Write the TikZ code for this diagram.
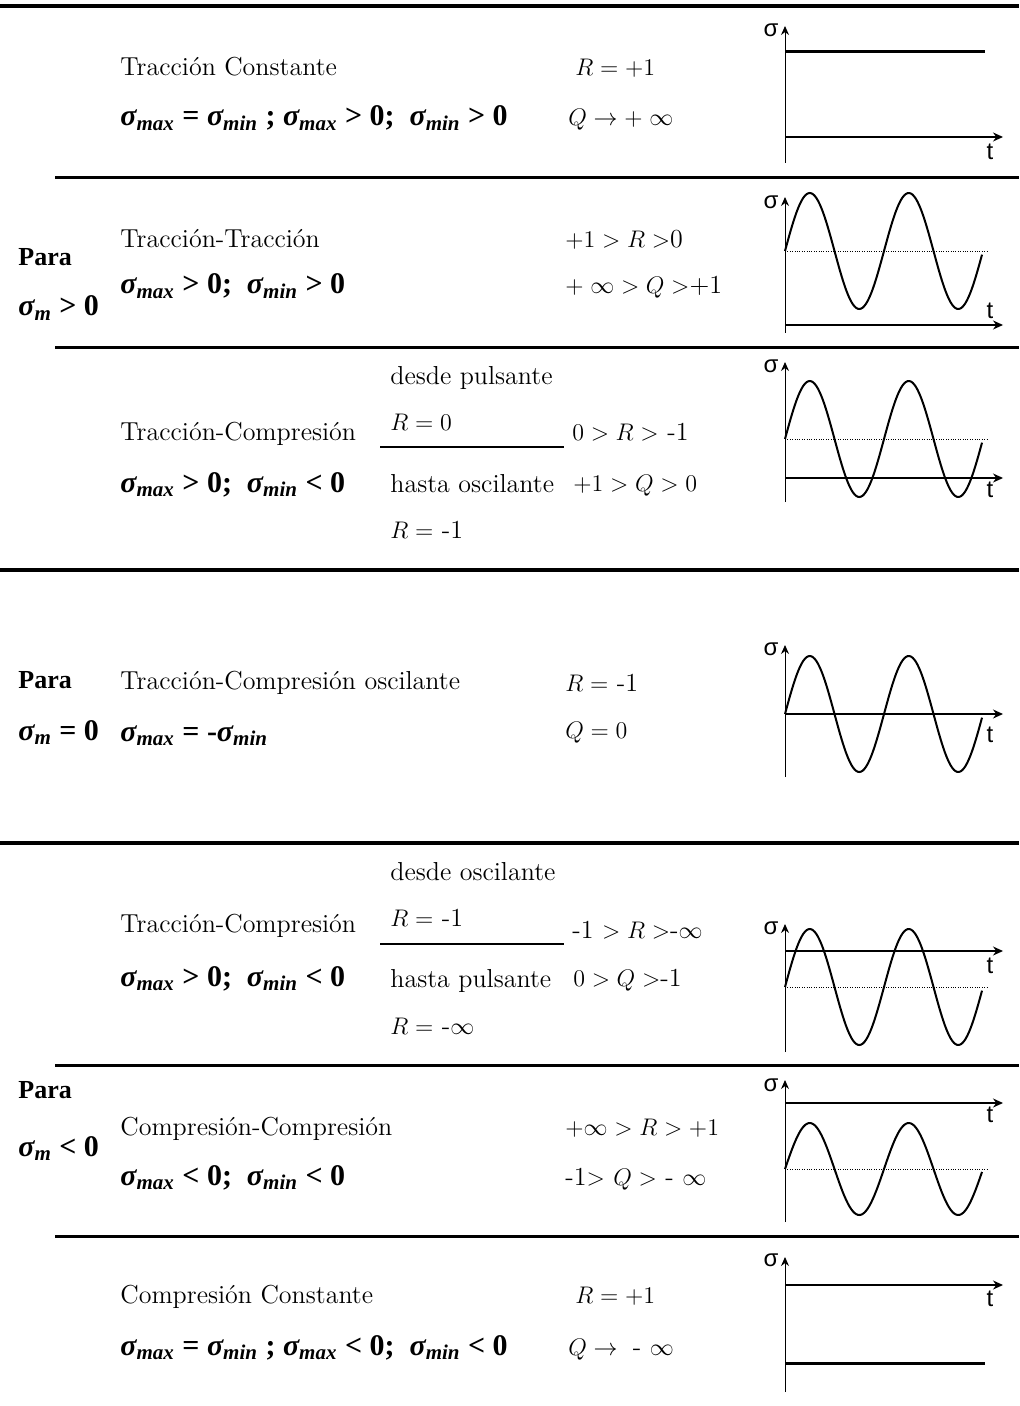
\documentclass[tikz,border=0pt]{standalone}
\usepackage{fontspec}
\newfontfamily\formfont{Liberation Serif}
\newfontfamily\axisfont{Liberation Sans}
\usepackage{tikz}
\usetikzlibrary{arrows.meta}
\newcommand{\sgm}[1]{{\itshape σ}\textsubscript{\itshape #1}}
\tikzset{
  fatiga-text/.style={anchor=base west, inner sep=0pt, font=\fontsize{13}{15}\selectfont},
  fatiga-formula/.style={anchor=base west, inner sep=0pt,
    font=\formfont\bfseries\fontsize{15}{17}\selectfont},
  fatiga-para/.style={anchor=base west, inner sep=0pt,
    font=\formfont\bfseries\fontsize{13}{15}\selectfont},
  fatiga-axislabel/.style={inner sep=0pt, font=\axisfont\fontsize{12}{14}\selectfont},
  fatiga-rule/.style={line width=1.5pt},
  fatiga-thickrule/.style={line width=2pt},
  fatiga-time/.style={line width=0.7pt, -{Stealth[length=5pt,width=4.5pt]}},
  fatiga-sigma/.style={line width=0.5pt, -{Stealth[length=4.5pt,width=4pt]}},
  fatiga-curve/.style={line width=1pt},
  fatiga-level/.style={line width=1.5pt},
  fatiga-mean/.style={line width=0.4pt, dash pattern=on 0.4pt off 0.8pt}
}

\begin{document}
\begin{tikzpicture}[x=0.5pt, y=-0.5pt]
  \useasboundingbox (0,0) rectangle (1019,1406);

  % Rules
  \draw[fatiga-thickrule] (0,6) -- (1019,6);
  \draw[fatiga-rule] (55,178) -- (1019,178);
  \draw[fatiga-rule] (55,348) -- (1019,348);
  \draw[fatiga-thickrule] (0,570) -- (1019,570);
  \draw[fatiga-thickrule] (0,843) -- (1019,843);
  \draw[fatiga-rule] (55,1065) -- (1019,1065);
  \draw[fatiga-rule] (55,1236) -- (1019,1236);

  % Para sigma_m > 0
  \node[fatiga-para] (para1) at (18,266) {Para};
  \node[fatiga-formula] (sm1) at (18,316) {\sgm{m} > 0};

  % Traccion constante
  \node[fatiga-text] (n1) at (120,76) {Tracción Constante};
  \node[fatiga-formula] (c1) at (120,126) {\sgm{max} = \sgm{min} ; \sgm{max} > 0;\ \ \sgm{min} > 0};
  \node[fatiga-text] (r1) at (575,76) {$R = +1$};
  \node[fatiga-text] (q1) at (568,126) {$Q \to +\;\infty$};
  \draw[fatiga-sigma] (785,163) -- (785,26);
  \draw[fatiga-time] (785,137) -- (1003,137);
  \node[fatiga-axislabel] (sg1) at (771,30) {σ};
  \node[fatiga-axislabel] (tt1) at (990,152) {t};
  \draw[fatiga-level] (785,52) -- (985,52);

  % Traccion-traccion
  \node[fatiga-text] (n2) at (120,248) {Tracción-Tracción};
  \node[fatiga-formula] (c2) at (120,294) {\sgm{max} > 0;\ \ \sgm{min} > 0};
  \node[fatiga-text] (r2) at (565,248) {$+1 > R >$0};
  \node[fatiga-text] (q2) at (565,294) {$+\;\infty > Q >$+1};
  \draw[fatiga-sigma] (785,333) -- (785,197);
  \draw[fatiga-time] (785,325) -- (1003,325);
  \node[fatiga-axislabel] (sg2) at (771,202) {σ};
  \node[fatiga-axislabel] (tt2) at (990,311) {t};
  \draw[fatiga-mean] (785,251) -- (988,251);
  \draw[fatiga-curve] plot[domain=0:197, samples=120, smooth] ({785+\x},{251-58*sin(3.6364*\x)});

  % Traccion-compresion, desde pulsante hasta oscilante
  \node[fatiga-text] (d3) at (390,385) {desde pulsante};
  \node[fatiga-text] (d3r) at (390,430) {$R = 0$};
  \draw[line width=1pt] (380,447) -- (564,447);
  \node[fatiga-text] (h3) at (390,492) {hasta oscilante};
  \node[fatiga-text] (h3r) at (390,538) {$R =$ -1};
  \node[fatiga-text] (n3) at (120,440) {Tracción-Compresión};
  \node[fatiga-formula] (c3) at (120,492) {\sgm{max} > 0;\ \ \sgm{min} < 0};
  \node[fatiga-text] (r3) at (572,441) {$0 > R >$ -1};
  \node[fatiga-text] (q3) at (573,491) {$+1 > Q > 0$};
  \draw[fatiga-sigma] (785,502) -- (785,362);
  \draw[fatiga-time] (785,478) -- (1003,478);
  \node[fatiga-axislabel] (sg3) at (771,366) {σ};
  \node[fatiga-axislabel] (tt3) at (990,490) {t};
  \draw[fatiga-mean] (785,439) -- (988,439);
  \draw[fatiga-curve] plot[domain=0:197, samples=120, smooth] ({785+\x},{439-58*sin(3.6364*\x)});

  % Para sigma_m = 0
  \node[fatiga-para] (para0) at (18,688) {Para};
  \node[fatiga-formula] (sm0) at (18,740) {\sgm{m} = 0};
  \node[fatiga-text] (n4) at (120,689) {Tracción-Compresión oscilante};
  \node[fatiga-formula] (c4) at (120,741) {\sgm{max} = -\sgm{min}};
  \node[fatiga-text] (r4) at (565,691) {$R =$ -1};
  \node[fatiga-text] (q4) at (565,738) {$Q = 0$};
  \draw[fatiga-sigma] (785,777) -- (785,645);
  \draw[fatiga-time] (785,714) -- (1003,714);
  \node[fatiga-axislabel] (sg4) at (771,649) {σ};
  \node[fatiga-axislabel] (tt4) at (990,735) {t};
  \draw[fatiga-curve] plot[domain=0:197, samples=120, smooth] ({785+\x},{714-58*sin(3.6364*\x)});

  % Traccion-compresion, desde oscilante hasta pulsante
  \node[fatiga-text] (d5) at (390,880) {desde oscilante};
  \node[fatiga-text] (d5r) at (390,926) {$R =$ -1};
  \draw[line width=1pt] (380,944) -- (564,944);
  \node[fatiga-text] (h5) at (390,987) {hasta pulsante};
  \node[fatiga-text] (h5r) at (390,1034) {$R =$ -$\infty$};
  \node[fatiga-text] (n5) at (120,932) {Tracción-Compresión};
  \node[fatiga-formula] (c5) at (120,986) {\sgm{max} > 0;\ \ \sgm{min} < 0};
  \node[fatiga-text] (r5) at (572,938) {-1 $> R >$-$\infty$};
  \node[fatiga-text] (q5) at (573,986) {$0 > Q >$-1};
  \draw[fatiga-sigma] (785,1052) -- (785,924);
  \draw[fatiga-time] (785,951) -- (1003,951);
  \node[fatiga-axislabel] (sg5) at (771,928) {σ};
  \node[fatiga-axislabel] (tt5) at (990,966) {t};
  \draw[fatiga-mean] (785,987) -- (988,987);
  \draw[fatiga-curve] plot[domain=0:197, samples=120, smooth] ({785+\x},{987-58*sin(3.6364*\x)});

  % Para sigma_m < 0
  \node[fatiga-para] (paraN) at (18,1098) {Para};
  \node[fatiga-formula] (smN) at (18,1156) {\sgm{m} < 0};

  % Compresion-compresion
  \node[fatiga-text] (n6) at (120,1135) {Compresión-Compresión};
  \node[fatiga-formula] (c6) at (120,1185) {\sgm{max} < 0;\ \ \sgm{min} < 0};
  \node[fatiga-text] (r6) at (565,1135) {$+\infty > R > +1$};
  \node[fatiga-text] (q6) at (565,1185) {-1$>$ $Q >$ - $\infty$};
  \draw[fatiga-sigma] (785,1222) -- (785,1080);
  \draw[fatiga-time] (785,1103) -- (1003,1103);
  \node[fatiga-axislabel] (sg6) at (771,1085) {σ};
  \node[fatiga-axislabel] (tt6) at (990,1115) {t};
  \draw[fatiga-mean] (785,1169) -- (988,1169);
  \draw[fatiga-curve] plot[domain=0:197, samples=120, smooth] ({785+\x},{1169-46*sin(3.6364*\x)});

  % Compresion constante
  \node[fatiga-text] (n7) at (120,1303) {Compresión Constante};
  \node[fatiga-formula] (c7) at (120,1355) {\sgm{max} = \sgm{min} ; \sgm{max} < 0;\ \ \sgm{min} < 0};
  \node[fatiga-text] (r7) at (575,1303) {$R = +1$};
  \node[fatiga-text] (q7) at (568,1355) {$Q \to{}$ - $\infty$};
  \draw[fatiga-sigma] (785,1392) -- (785,1257);
  \draw[fatiga-time] (785,1285) -- (1003,1285);
  \node[fatiga-axislabel] (sg7) at (771,1260) {σ};
  \node[fatiga-axislabel] (tt7) at (990,1299) {t};
  \draw[fatiga-level] (785,1363) -- (985,1363);
\end{tikzpicture}
\end{document}
